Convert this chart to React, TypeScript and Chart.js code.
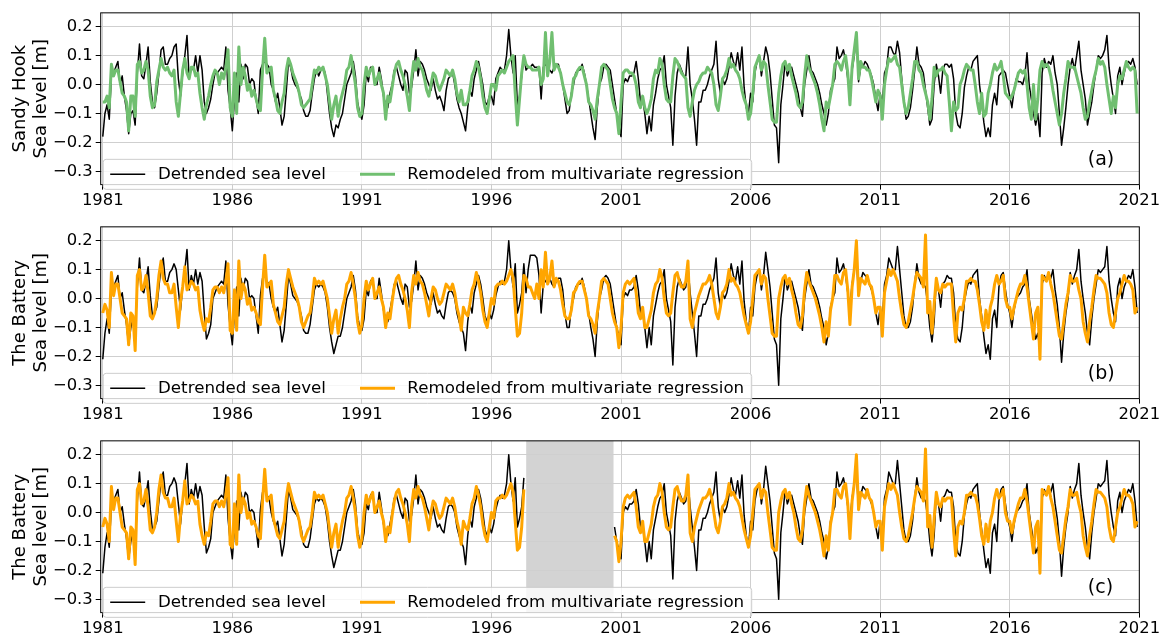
import React, { useEffect, useRef } from 'react';
import { Chart, registerables } from 'chart.js';

Chart.register(...registerables);

// ---------------- data (monthly values, cm, Jan 1981 .. Dec 2020) ----------------
const START_YEAR = 1981;

const SANDY_HOOK_OBS = [
  -18, -10, -7, -12, 3, 4, 6, 8, 0, 3, -4, -9,
  -17, -10, -9, -14, 4, 14, 3, 2, 7, 13, 1, -6,
  -8, -3, 4, 12, 13, 7, 7, 9, 10, 13, 14, 2,
  -4, 4, 10, 17, 2, 6, 5, 10, 4, 10, 5, -6,
  -10, -8, -5, 0, 4, 4, 5, 6, 5, 13, -2, -8,
  -16, -5, 4, -6, 7, 2, 7, 6, 0, 2, 1, -5,
  -10, 5, 7, 8, 7, 6, 0, -2, -6, -3, -8, -14,
  -11, -2, 8, 6, 2, 0, -1, -3, -5, -9, -11, -11,
  -9, -3, 2, 5, 3, 5, 6, 4, -3, -10, -15, -18,
  -14, -15, -12, -10, -5, 0, 2, 4, 8, 3, -6, -10,
  -12, -7, 4, 1, 6, 6, 0, 0, 6, 2, -4, -7,
  -8, -3, 0, 5, 6, 3, 0, -2, 5, 4, -3, -1,
  5, 12, 3, 8, 7, 5, 2, 0, -2, 2, -2, -5,
  -4, -6, -9, -2, 2, 3, 4, 0, -5, -8, -10, -13,
  -16, -8, -2, -4, 2, 5, 8, 4, 0, -6, -7, -4,
  -4, -7, 2, 4, 6, 5, 5, 10, 19, 10, 4, 10,
  -7, -4, 3, 10, 5, 6, 6, 7, 6, 6, 6, -5,
  6, 7, 6, 5, 4, 6, 7, 7, 4, 0, -5, -10,
  -9, -3, 0, 4, 5, 5, 7, 4, 0, -5, -10, -15,
  -19, -8, 0, 2, 6, 7, 6, 5, 0, -5, -10, -14,
  -18, 0, 2, 1, 3, 3, 4, 8, 2, -6, -5, -10,
  -17, -11, -16, -7, -3, 2, 5, 6, 10, 0, -4, -8,
  -21, -4, 4, 7, 5, 3, 3, 13, 0, -5, -12, -21,
  -6, -6, -2, -2, 0, 3, 5, 7, 15, 2, -3, 2,
  0, 2, 6, 11, 8, 6, 11, 5, 13, -1, -8, -10,
  -3, -6, 4, 8, 10, 3, 8, 13, 10, 4, -5, -14,
  -15, -27, -7, 0, 8, 3, 5, 6, 3, 0, -3, -8,
  -11, 0, 5, 10, 5, 4, 2, 0, -3, -7, -10, -14,
  -10, -2, 0, 2, 13, 9, 10, 12, 8, 2, -3, 5,
  10, 17, 1, 6, 6, 8, 7, 5, 3, 0, -5, -9,
  -3, -7, 4, 6, 13, 13, 11, 10, 15, 11, 2, -6,
  -12, -11, -8, -2, 5, 13, 7, 6, 4, -2, -8, -14,
  -12, 0, 7, 3, -3, 5, 7, 7, 6, 7, 2, -10,
  -14, -15, -10, -1, 3, 6, 5, 8, 9, 10, 0, -6,
  -13, -18, -15, -18, -7, -3, -7, 3, 4, 5, 4, 0,
  -4, -8, -2, 2, 1, 1, 0, 3, 11, 0, -5, -10,
  -14, -10, -18, 4, 9, 6, 8, 7, 10, 4, 0, -10,
  -21, -15, -8, 0, 6, 9, 5, 10, 15, 5, 0, -5,
  -14, -10, -6, 0, 5, 10, 9, 10, 12, 17, 6, 0,
  -5, -10, 3, 6, 0, 4, 7, 8, 7, 9, 6, 0,
];

const SANDY_HOOK_MOD = [
  -6, -6, -4, -8, 7, 3, 5, 5, 1, -3, -4, -6,
  -16, -4, -4, -11, 7, 8, 4, 5, 8, 5, -4, -8,
  -7, 1, 5, 9, 6, 5, 6, 4, 3, 5, -6, -11,
  -3, 5, 9, 4, 2, 6, 6, 3, 4, -3, -8, -12,
  -7, -4, 0, 3, 5, 4, 0, 4, 2, 6, 12, -8,
  -11, 4, -10, 13, 0, 6, 3, -2, 0, -4, -2, -5,
  -8, -9, 5, 16, 4, 5, 6, -2, -5, -9, -10, -6,
  -3, 5, 9, 7, 4, 2, 0, -3, -7, -8, -7, -6,
  -5, 0, 5, 4, 6, 5, 6, 3, 0, -6, -12, -7,
  -4, -11, -6, -3, 0, 5, 6, 10, 5, 0, -8, -11,
  -10, 0, 6, 3, 5, 6, 0, 2, 4, 0, -3, -12,
  -4, -6, -1, 4, 7, 8, 5, 3, 0, -4, -9, 2,
  8, 5, 9, 6, 5, 2, -2, -4, 0, 4, 3, 0,
  -2, 0, 2, 5, 4, 3, 5, 2, -3, -6, -2, -7,
  -7, -6, -2, 3, 5, 8, 6, 2, -4, -8, -10, -5,
  0, 0, -2, 3, 4, 5, 4, 6, 8, 9, 10, -3,
  -14, -5, 4, 10, 7, 6, 6, 5, 5, 5, 6, 0,
  2, 18, 3, 8, 18, 5, 7, 6, 4, 0, -3, -6,
  -7, -4, 2, 3, 5, 6, 6, 3, 0, -6, -7, -9,
  -12, -5, 0, 6, 7, 6, 5, 0, -5, -8, -10, -17,
  -6, 4, 5, 5, 4, 4, 3, 0, -6, -8, -4, -8,
  -10, -8, -5, 2, 5, 4, 9, 7, 0, -5, -6, -6,
  3, 9, 8, 6, 4, 3, 2, -8, -11, -6, -2, 0,
  1, 3, 4, 4, 6, 5, 4, 0, -7, -9, -4, 2,
  3, 5, 9, 6, 7, 5, 4, 2, -2, -5, -7, -12,
  -10, -3, 6, 8, 10, 5, 8, 7, 0, -6, -12, -13,
  -13, -3, 3, 7, 8, 5, 7, 3, 0, -3, -7, -8,
  -6, 3, 10, 6, 4, 2, 0, -3, -7, -12, -16, -6,
  -8, -4, 0, 7, 8, 7, 5, 8, 10, 4, -7, 6,
  12, 18, 2, 8, 6, 6, 5, 5, 2, -2, -6, -2,
  -4, -12, 0, 5, 9, 8, 9, 10, 7, 6, 0, -6,
  -10, -8, -3, 2, 8, 8, 5, 4, 0, -3, -6, -12,
  -5, 6, 3, 5, 5, 6, 4, 3, -6, -16, -6, -9,
  -8, 0, 2, 5, 7, 6, 5, 5, 0, -6, -10, -3,
  -11, -10, -3, 0, 4, 7, 5, 6, 8, 3, -3, -4,
  -5, -4, -2, 1, 4, 5, 4, 5, 0, -8, -12, 0,
  -12, -5, 5, 8, 6, 7, 6, 3, -2, -6, -10, -14,
  -10, -3, 2, 8, 6, 6, 6, 3, 0, -3, -8, -12,
  -11, -6, -2, 2, 5, 9, 7, 8, 6, 0, -5, -10,
  -4, -8, 0, 3, 2, 5, 8, 6, 5, 6, 5, -10,
];

const BATTERY_OBS = [
  -21, -12, -7, -12, 3, 4, 6, 8, 0, 2, -4, -9,
  -16, -10, -7, -12, 4, 14, 3, 2, 6, 11, 1, -6,
  -5, -3, 4, 11, 14, 6, 6, 9, 10, 12, 10, 3,
  -4, 4, 10, 17, 3, 8, 5, 10, 5, 9, 6, -5,
  -14, -12, -9, 0, 2, 4, 5, 6, 5, 13, -2, -10,
  -16, -5, 4, -6, 7, 3, 7, 6, 0, 1, 0, -6,
  -12, 1, 7, 8, 6, 5, 0, -3, -5, -3, -9, -15,
  -11, -2, 8, 5, 1, 0, -1, -3, -6, -11, -12, -12,
  -9, -3, 3, 5, 4, 5, 4, 2, -3, -10, -15, -19,
  -16, -13, -13, -10, -5, 0, 2, 4, 8, 3, -6, -10,
  -11, -7, 3, 1, 6, 7, 0, 0, 7, 2, -4, -7,
  -8, -4, 0, 5, 6, 3, 0, -2, 5, 4, -3, -1,
  5, 13, 3, 8, 7, 5, 2, 0, -2, 2, -2, -5,
  -4, -6, -7, -2, 2, 3, 2, 0, -5, -8, -10, -12,
  -18, -8, -2, -5, 2, 5, 8, 5, 0, -6, -8, -5,
  -7, -4, 1, 4, 6, 5, 6, 10, 20, 10, 4, 12,
  -5, -2, 2, 12, 2, 10, 15, 15, 15, 14, 8, -5,
  5, 6, 7, 7, 5, 4, 6, 7, 7, 3, -5, -10,
  -10, -3, 0, 4, 5, 5, 7, 4, 0, -5, -10, -14,
  -20, -8, 0, 3, 7, 8, 7, 5, 0, -5, -10, -13,
  -16, 0, 2, 1, 3, 3, 4, 8, 3, -5, -5, -10,
  -17, -10, -16, -6, -2, 2, 5, 6, 10, 0, -4, -8,
  -23, -3, 4, 7, 5, 3, 4, 11, 2, -5, -12, -20,
  -6, -6, -2, -2, 0, 3, 5, 7, 14, 2, -3, 2,
  0, 2, 6, 12, 8, 6, 11, 5, 13, -1, -8, -12,
  -3, -6, 4, 8, 10, 3, 8, 16, 10, 4, -5, -14,
  -16, -30, -7, 0, 8, 3, 5, 6, 3, 0, -3, -8,
  -11, 0, 5, 10, 5, 4, 2, 0, -3, -7, -10, -16,
  -12, -3, 0, 2, 14, 9, 10, 12, 8, 2, -3, 5,
  10, 14, 1, 6, 9, 8, 7, 5, 3, 0, -5, -9,
  -3, -8, 5, 8, 14, 12, 10, 10, 18, 10, 2, -6,
  -10, -10, -8, -3, 5, 12, 7, 5, 5, 4, -2, -10,
  -15, -8, 7, 3, -3, 5, 6, 8, 7, 7, 2, -10,
  -14, -15, -10, -1, 3, 6, 5, 8, 9, 10, 0, -6,
  -13, -19, -16, -21, -7, -4, -10, 4, 8, 9, 3, -2,
  -5, -10, -4, 0, 1, 2, 4, 5, 10, 0, -5, -10,
  -14, -12, -18, 5, 8, 6, 9, 7, 10, 3, -2, -10,
  -22, -12, -5, 0, 9, 5, 8, 10, 17, 6, 0, -5,
  -12, -16, -7, 0, 5, 10, 9, 10, 11, 18, 6, 0,
  -5, -8, 4, 7, 0, 4, 6, 8, 7, 10, 4, -5,
];

const BATTERY_MOD = [
  -5, -2, -4, -10, 9, 1, 5, 5, 0, -5, -6, -7,
  -16, -5, -6, -18, 8, 10, 3, 4, 8, 2, -6, -7,
  -5, 0, 8, 13, 7, 5, 5, 2, 2, 5, -3, -10,
  -1, 4, 11, 3, 4, 6, 5, 3, 4, -4, -8, -11,
  -7, -8, -3, 3, 4, 4, 2, 4, 2, 6, 12, -11,
  -12, 3, -11, 13, 0, 5, 3, -2, 0, -4, -3, -5,
  -8, -9, 4, 15, 4, 5, 6, -2, -5, -8, -9, -6,
  -3, 5, 10, 7, 4, 2, 0, -3, -8, -10, -8, -6,
  -5, 0, 7, 5, 6, 5, 6, 3, 0, -6, -12, -7,
  -4, -12, -7, -3, 0, 5, 6, 9, 5, 0, -8, -12,
  -9, 0, 6, 3, 5, 7, 0, 2, 4, 0, -3, -10,
  -5, -7, -1, 4, 7, 8, 5, 3, 0, -4, -10, 2,
  8, 5, 9, 6, 5, 2, -2, -6, 0, 4, 3, 0,
  -2, -1, 2, 5, 4, 3, 5, 2, -3, -6, -11, -3,
  -5, -6, -2, 3, 5, 9, 6, 2, -4, -8, -10, -5,
  0, -2, 4, 5, 5, 6, 5, 6, 8, 10, 7, -3,
  -13, -12, -5, 8, 7, 4, 4, 2, 0, 5, 0, 10,
  4, 16, 5, 7, 13, 4, 7, 6, 3, -2, -6, -7,
  -7, -4, 2, 3, 5, 6, 6, 3, 0, -6, -7, -9,
  -12, -5, 0, 6, 7, 6, 5, 0, -5, -8, -10, -17,
  -10, 2, 5, 6, 5, 6, 7, 2, -5, -7, -3, -10,
  -10, -7, -4, 2, 5, 6, 10, 7, 0, -5, -6, -5,
  2, 8, 9, 6, 4, 4, 6, 13, -7, -10, -5, -2,
  1, 3, 5, 5, 6, 8, 5, 0, -5, -7, -3, 2,
  3, 5, 10, 6, 7, 5, 4, 2, -2, -6, -9, -12,
  -8, 0, 8, 9, 10, 5, 8, 7, 0, -6, -12, -13,
  -13, 0, 4, 7, 8, 5, 7, 3, 0, -5, -9, -10,
  -6, 3, 9, 6, 4, 2, 0, -3, -6, -10, -15, -8,
  -13, -4, 0, 8, 8, 6, 5, 9, 10, 3, -9, 4,
  10, 20, 1, 7, 6, 5, 8, 5, 4, 0, -5, -3,
  -3, -13, 2, 6, 10, 8, 10, 8, 6, 0, -5, -9,
  -10, -8, -4, 0, 5, 9, 8, 7, 4, 22, -5, -1,
  -12, -2, 7, 3, 2, 5, 4, 5, 5, 5, -6, -15,
  -5, -3, -4, 0, 6, 6, 7, 6, 6, 3, -2, -8,
  -11, -4, -10, -3, 0, 5, 8, 5, 6, 8, 0, -3,
  -3, -7, -3, 0, 3, 5, 5, 8, 4, -2, -8, -14,
  -5, -3, -21, 8, 7, 6, 9, 5, 2, -3, -8, -13,
  -14, -8, -2, 2, 8, 6, 6, 7, 3, 0, -8, -12,
  -15, -8, -3, 3, 8, 7, 7, 6, 5, 2, -5, -9,
  -10, -5, 0, 2, 5, 8, 6, 6, 5, 3, -5, -3,
];

// excluded period in panel (c)
const GAP = [1997.34, 2000.71];

const X_TICKS = [1981, 1986, 1991, 1996, 2001, 2006, 2011, 2016, 2021];
const Y_TICKS = [-0.3, -0.2, -0.1, 0.0, 0.1, 0.2];

// ---------------- layout / style ----------------
const W = 1167;
const H = 214;
const PANEL_TOPS = [0, 214, 428];
const PLOT_LEFT = 100.7;
const PLOT_RIGHT = 1139.3;
const PLOT_TOP = 7.3;
const PLOT_BOTTOM = 184.6;
const X_MIN = 1980.92;
const X_MAX = 2021.0;
const Y_MIN = -0.346;
const Y_MAX = 0.248;
const FONT = '"DejaVu Sans", Verdana, sans-serif';
const GRID = '#cfcfcf';
const GREEN = '#70bf70';
const ORANGE = '#ffa500';

type Panel = {
  obs: number[];
  mod: number[];
  color: string;
  ylabel: string[];
  tag: string;
  gap: number[] | null;
};

const PANELS: Panel[] = [
  { obs: SANDY_HOOK_OBS, mod: SANDY_HOOK_MOD, color: GREEN, ylabel: ['Sandy Hook', 'Sea level [m]'], tag: '(a)', gap: null },
  { obs: BATTERY_OBS, mod: BATTERY_MOD, color: ORANGE, ylabel: ['The Battery', 'Sea level [m]'], tag: '(b)', gap: null },
  { obs: BATTERY_OBS, mod: BATTERY_MOD, color: ORANGE, ylabel: ['The Battery', 'Sea level [m]'], tag: '(c)', gap: GAP },
];

function toPoints(values: number[], gap: number[] | null) {
  return values.map((v, i) => {
    const x = START_YEAR + i / 12;
    const hidden = gap ? x > gap[0] - 0.02 && x < gap[1] : false;
    return { x, y: hidden ? null : v / 100 };
  });
}

function fmtY(v: number) {
  if (Math.abs(v) < 1e-9) return '0.0';
  return v.toFixed(1).replace('-', '\u2212');
}

function overlayPlugin(panel: Panel) {
  return {
    id: 'overlay',
    beforeDraw(chart: any) {
      if (!panel.gap) return;
      const { ctx, chartArea } = chart;
      const xs = chart.scales.x;
      const x0 = xs.getPixelForValue(panel.gap[0]);
      const x1 = xs.getPixelForValue(panel.gap[1]);
      ctx.save();
      ctx.fillStyle = '#d3d3d3';
      ctx.fillRect(x0, chartArea.top, x1 - x0, chartArea.bottom - chartArea.top);
      ctx.restore();
    },
    afterDatasetsDraw(chart: any) {
      const { ctx, chartArea } = chart;
      const { left, right, top, bottom } = chartArea;
      ctx.save();
      // frame
      ctx.strokeStyle = '#000';
      ctx.lineWidth = 1;
      ctx.strokeRect(left, top, right - left, bottom - top);

      // legend
      const lx = left + 2.5;
      const ly = top + 146.5;
      const lw = 648.5;
      const lh = 30;
      const r = 3;
      ctx.beginPath();
      ctx.moveTo(lx + r, ly);
      ctx.lineTo(lx + lw - r, ly);
      ctx.quadraticCurveTo(lx + lw, ly, lx + lw, ly + r);
      ctx.lineTo(lx + lw, ly + lh - r);
      ctx.quadraticCurveTo(lx + lw, ly + lh, lx + lw - r, ly + lh);
      ctx.lineTo(lx + r, ly + lh);
      ctx.quadraticCurveTo(lx, ly + lh, lx, ly + lh - r);
      ctx.lineTo(lx, ly + r);
      ctx.quadraticCurveTo(lx, ly, lx + r, ly);
      ctx.closePath();
      ctx.fillStyle = 'rgba(255,255,255,0.8)';
      ctx.fill();
      ctx.strokeStyle = '#cccccc';
      ctx.lineWidth = 1;
      ctx.stroke();

      const cy = ly + lh / 2;
      ctx.lineCap = 'butt';
      ctx.strokeStyle = '#000';
      ctx.lineWidth = 1.5;
      ctx.beginPath();
      ctx.moveTo(left + 9.5, cy);
      ctx.lineTo(left + 44.5, cy);
      ctx.stroke();
      ctx.strokeStyle = panel.color;
      ctx.lineWidth = 3;
      ctx.beginPath();
      ctx.moveTo(left + 259.3, cy);
      ctx.lineTo(left + 294.3, cy);
      ctx.stroke();

      ctx.fillStyle = '#000';
      ctx.font = `16.7px ${FONT}`;
      ctx.textAlign = 'left';
      ctx.textBaseline = 'middle';
      ctx.fillText('Detrended sea level', left + 57.3, cy + 0.5);
      ctx.fillText('Remodeled from multivariate regression', left + 306.6, cy + 0.5);

      // panel tag
      ctx.font = `19px ${FONT}`;
      ctx.fillText(panel.tag, right - 51.5, top + 147.5);
      ctx.restore();
    },
    afterDraw(chart: any) {
      const { ctx, chartArea } = chart;
      const cyMid = (chartArea.top + chartArea.bottom) / 2;
      ctx.save();
      ctx.fillStyle = '#000';
      ctx.font = `18px ${FONT}`;
      ctx.textAlign = 'center';
      ctx.textBaseline = 'middle';
      const xs = [20, 41.5];
      panel.ylabel.forEach((line, k) => {
        ctx.save();
        ctx.translate(xs[k], cyMid);
        ctx.rotate(-Math.PI / 2);
        ctx.fillText(line, 0, 0);
        ctx.restore();
      });
      ctx.restore();
    },
  };
}

function buildChart(canvas: HTMLCanvasElement, panel: Panel) {
  return new Chart(canvas, {
    type: 'line',
    data: {
      datasets: [
        {
          label: 'Detrended sea level',
          data: toPoints(panel.obs, panel.gap) as any,
          borderColor: '#000000',
          borderWidth: 1.5,
          pointRadius: 0,
          tension: 0,
          spanGaps: false,
          borderJoinStyle: 'round',
          order: 2,
        },
        {
          label: 'Remodeled from multivariate regression',
          data: toPoints(panel.mod, panel.gap) as any,
          borderColor: panel.color,
          borderWidth: 3,
          pointRadius: 0,
          tension: 0,
          spanGaps: false,
          borderJoinStyle: 'round',
          order: 1,
        },
      ],
    },
    options: {
      animation: false,
      responsive: false,
      maintainAspectRatio: false,
      events: [],
      layout: { padding: { top: PLOT_TOP, right: W - PLOT_RIGHT, left: 0, bottom: 0 } },
      plugins: { legend: { display: false }, tooltip: { enabled: false } },
      scales: {
        x: {
          type: 'linear',
          min: X_MIN,
          max: X_MAX,
          afterBuildTicks: (s: any) => {
            s.ticks = X_TICKS.map((v) => ({ value: v }));
          },
          afterFit: (s: any) => {
            s.height = H - PLOT_BOTTOM;
          },
          grid: { color: GRID, lineWidth: 1, tickLength: 5, tickColor: '#000', drawTicks: true },
          border: { display: false },
          ticks: {
            color: '#000',
            font: { family: FONT, size: 16.4 },
            padding: 1,
            maxRotation: 0,
            autoSkip: false,
            callback: (v: any) => String(v),
          },
        },
        y: {
          type: 'linear',
          min: Y_MIN,
          max: Y_MAX,
          afterBuildTicks: (s: any) => {
            s.ticks = Y_TICKS.map((v) => ({ value: v }));
          },
          afterFit: (s: any) => {
            s.width = PLOT_LEFT;
          },
          grid: { color: GRID, lineWidth: 1, tickLength: 5, tickColor: '#000', drawTicks: true },
          border: { display: false },
          ticks: {
            color: '#000',
            font: { family: FONT, size: 16.4 },
            padding: 3,
            autoSkip: false,
            callback: (v: any) => fmtY(Number(v)),
          },
        },
      },
    } as any,
    plugins: [overlayPlugin(panel)],
  });
}

export default function App() {
  const refs = [useRef<HTMLCanvasElement>(null), useRef<HTMLCanvasElement>(null), useRef<HTMLCanvasElement>(null)];

  useEffect(() => {
    const charts = PANELS.map((p, i) => buildChart(refs[i].current as HTMLCanvasElement, p));
    return () => charts.forEach((c) => c.destroy());
  }, []);

  return (
    <div
      style={{
        position: 'fixed',
        left: 0,
        top: 0,
        width: W,
        height: 636,
        overflow: 'hidden',
        background: '#ffffff',
      }}
    >
      {PANELS.map((p, i) => (
        <canvas
          key={p.tag}
          ref={refs[i]}
          width={W}
          height={H}
          style={{ position: 'absolute', left: 0, top: PANEL_TOPS[i], width: W, height: H }}
        />
      ))}
    </div>
  );
}
